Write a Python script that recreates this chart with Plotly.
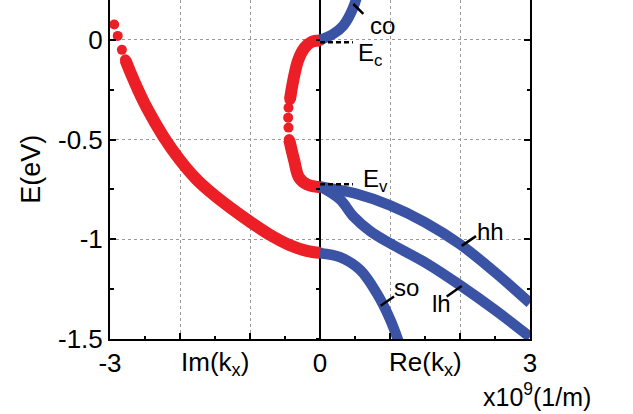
import plotly.graph_objects as go

# ---- complex band structure E(k) : imaginary branches (left side, Im k) ----
# outer evanescent branch, sparse points near the top
im_outer_sparse_k = [-2.94, -2.89, -2.83]
im_outer_sparse_E = [0.077, 0.020, -0.050]
# outer evanescent branch, dense part
im_outer_k = [-2.78, -2.70, -2.60, -2.476, -2.238, -2.0, -1.762, -1.524, -1.286, -1.0, -0.714, -0.429, -0.19, 0.0]
im_outer_E = [-0.10, -0.17, -0.25, -0.34, -0.484, -0.603, -0.70, -0.775, -0.84, -0.912, -0.978, -1.03, -1.058, -1.068]
# gap loop connecting Ec and Ev
im_loop_k = [0.0, -0.12, -0.22, -0.31, -0.38, -0.43]
im_loop_E = [-0.003, -0.01, -0.04, -0.10, -0.20, -0.30]
im_loop_sparse_k = [-0.45, -0.455, -0.45]
im_loop_sparse_E = [-0.34, -0.39, -0.44]
im_loop2_k = [-0.44, -0.37, -0.30, -0.19, -0.04, 0.0]
im_loop2_E = [-0.50, -0.603, -0.69, -0.724, -0.737, -0.737]

# ---- real branches (right side, Re k) ----
co_k = [0.0, 0.19, 0.333, 0.476, 0.55]
co_E = [0.0, 0.03, 0.0715, 0.163, 0.25]
hh_k = [0.0, 0.5, 1.0, 1.5, 2.0, 2.5, 3.0]
hh_E = [-0.735, -0.77, -0.83, -0.915, -1.025, -1.165, -1.32]
lh_k = [0.0, 0.286, 0.476, 0.714, 1.0, 1.52, 2.0, 2.52, 3.0]
lh_E = [-0.735, -0.80, -0.885, -0.958, -1.02, -1.12, -1.23, -1.36, -1.49]
so_k = [0.0, 0.286, 0.571, 0.81, 1.0, 1.14]
so_E = [-1.07, -1.09, -1.153, -1.27, -1.40, -1.53]

Ec = -0.012
Ev = -0.724

x_tickvals = [-3, -2, -1, 0, 1, 2, 3]
x_ticktext = ["-3", "", "", "0", "", "", "3"]
y_tickvals = [0, -0.5, -1, -1.5]
y_ticktext = ["0", "-0.5", "-1", "-1.5"]

RED = "#EC1F27"
BLUE = "#3A53A4"
FONT = "Liberation Sans, Arial, sans-serif"

fig = go.Figure()

# imaginary-k branches (red dots)
for k, E in [(im_outer_k, im_outer_E), (im_loop_k, im_loop_E), (im_loop2_k, im_loop2_E)]:
    fig.add_trace(go.Scatter(x=k, y=E, mode="lines+markers", line=dict(color=RED, width=12, shape="spline"),
                             marker=dict(color=RED, size=11), showlegend=False, hoverinfo="skip"))
for k, E in [(im_outer_sparse_k, im_outer_sparse_E), (im_loop_sparse_k, im_loop_sparse_E)]:
    fig.add_trace(go.Scatter(x=k, y=E, mode="markers", marker=dict(color=RED, size=10),
                             showlegend=False, hoverinfo="skip"))

# real-k branches (blue lines)
for k, E in [(co_k, co_E), (hh_k, hh_E), (lh_k, lh_E), (so_k, so_E)]:
    fig.add_trace(go.Scatter(x=k, y=E, mode="lines", line=dict(color=BLUE, width=10.5, shape="spline"),
                             showlegend=False, hoverinfo="skip"))

# band edges
for e in (Ec, Ev):
    fig.add_trace(go.Scatter(x=[0, 0.47], y=[e, e], mode="lines",
                             line=dict(color="black", width=2.5, dash="5px,3px"),
                             showlegend=False, hoverinfo="skip"))

# label leaders
leaders = {
    "co": ((0.476, 0.18), (0.619, 0.13)),
    "hh": ((2.024, -1.033), (2.229, -0.984)),
    "lh": ((1.81, -1.287), (2.024, -1.234)),
    "so": ((0.867, -1.333), (1.057, -1.287)),
}
for (a, b) in leaders.values():
    fig.add_trace(go.Scatter(x=[a[0], b[0]], y=[a[1], b[1]], mode="lines",
                             line=dict(color="black", width=2.5), showlegend=False, hoverinfo="skip"))

# ticks along the k=0 line
fig.add_trace(go.Scatter(x=[], y=[], yaxis="y2", showlegend=False))

label_font = dict(family=FONT, size=24, color="black")
texts = [
    ("co", 0.89, 0.07),
    ("hh", 2.436, -0.963),
    ("lh", 1.736, -1.324),
    ("so", 1.24, -1.243),
]
annotations = [dict(x=x, y=y, text=t, showarrow=False, xanchor="center", yanchor="middle", font=label_font)
               for t, x, y in texts]
annotations += [
    dict(x=0.52, y=-0.075, text="E<sub>c</sub>", showarrow=False, xanchor="left", yanchor="middle", font=label_font),
    dict(x=0.59, y=-0.705, text="E<sub>v</sub>", showarrow=False, xanchor="left", yanchor="middle", font=label_font),
    dict(x=-1.5, y=0, yref="paper", text="Im(k<sub>x</sub>)", showarrow=False, xanchor="center", yanchor="top",
         yshift=-6, font=dict(family=FONT, size=26, color="black")),
    dict(x=1.5, y=0, yref="paper", text="Re(k<sub>x</sub>)", showarrow=False, xanchor="center", yanchor="top",
         yshift=-6, font=dict(family=FONT, size=26, color="black")),
    dict(x=1.017, xref="paper", y=0, yref="paper", text="x10<sup>9</sup>(1/m)", showarrow=False,
         xanchor="center", yanchor="top", yshift=-38, font=dict(family=FONT, size=25, color="black")),
    dict(x=-0.19, xref="paper", y=0.5, yref="paper", text="E(eV)", textangle=-90, showarrow=False,
         xanchor="center", yanchor="middle", font=dict(family=FONT, size=27, color="black")),
]

grid = dict(showgrid=True, gridcolor="#9a9a9a", gridwidth=1, griddash="dot")

fig.update_layout(
    width=633, height=414,
    margin=dict(l=110, r=103, t=0, b=75),
    paper_bgcolor="white", plot_bgcolor="white",
    font=dict(family=FONT, size=26, color="black"),
    annotations=annotations,
    xaxis=dict(range=[-3, 3], tickmode="array", tickvals=x_tickvals, ticktext=x_ticktext,
               ticks="inside", ticklen=6, tickwidth=1.5, tickcolor="black",
               minor=dict(dtick=0.5, ticks="inside", ticklen=3.5, tickwidth=1.5, tickcolor="black", showgrid=False),
               showline=True, linecolor="black", linewidth=2, mirror=False,
               zeroline=True, zerolinecolor="black", zerolinewidth=2,
               tickfont=dict(family=FONT, size=26), **grid),
    yaxis=dict(range=[-1.5, 0.2], tickmode="array", tickvals=y_tickvals, ticktext=y_ticktext,
               ticks="inside", ticklen=6, tickwidth=1.5, tickcolor="black",
               minor=dict(dtick=0.25, ticks="inside", ticklen=3.5, tickwidth=1.5, tickcolor="black", showgrid=False),
               showline=True, linecolor="black", linewidth=2, mirror="ticks",
               zeroline=False, tickfont=dict(family=FONT, size=26), **grid),
    yaxis2=dict(range=[-1.5, 0.2], overlaying="y", anchor="free", position=0.5, side="left",
                tickmode="linear", tick0=0, dtick=0.25, ticks="outside", ticklen=4, tickwidth=1.5,
                tickcolor="black", showticklabels=False, showgrid=False, zeroline=False, showline=False),
)

fig.write_html("out.html")
